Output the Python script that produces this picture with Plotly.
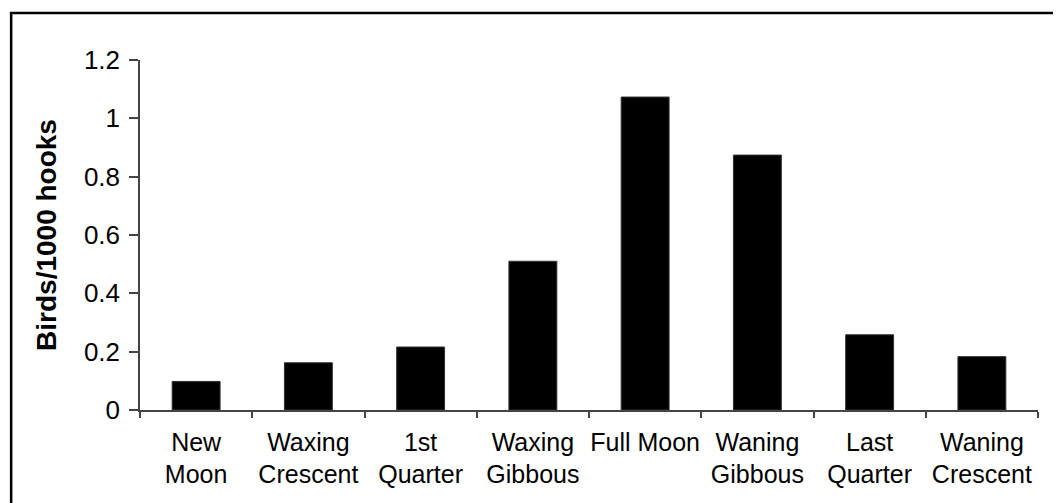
import plotly.graph_objects as go

phases = ["New<br>Moon", "Waxing<br>Crescent", "1st<br>Quarter", "Waxing<br>Gibbous",
          "Full Moon", "Waning<br>Gibbous", "Last<br>Quarter", "Waning<br>Crescent"]
birds_per_1000_hooks = [0.098, 0.162, 0.216, 0.51, 1.073, 0.874, 0.258, 0.183]
y_ticks = [0, 0.2, 0.4, 0.6, 0.8, 1, 1.2]

fig = go.Figure(go.Bar(
    x=phases, y=birds_per_1000_hooks,
    marker=dict(color="#000000", line=dict(color="#333333", width=1)),
))

font = "Liberation Sans, Arial, sans-serif"
fig.update_layout(
    width=1053, height=495,
    margin=dict(l=132, r=23, t=52, b=93),
    paper_bgcolor="white", plot_bgcolor="white",
    bargap=0.573, showlegend=False,
    font=dict(family=font, color="#000000"),
)
fig.update_xaxes(
    showline=True, linecolor="#444444", linewidth=1.5,
    ticks="outside", ticklen=6, tickcolor="#444444", tickwidth=1.5,
    tickson="boundaries", tickfont=dict(size=25, family=font),
    ticklabelstandoff=9, tickangle=0, automargin=False,
    showgrid=False,
)
fig.update_yaxes(
    range=[0, 1.2], tickvals=y_ticks, ticktext=[str(v) for v in y_ticks],
    showline=True, linecolor="#444444", linewidth=1.5,
    ticks="outside", ticklen=9, tickcolor="#444444", tickwidth=1.5,
    tickfont=dict(size=26, family=font), ticklabelstandoff=4,
    showgrid=False, zeroline=False, automargin=False,
    title=dict(text="<b>Birds/1000 hooks</b>", font=dict(size=28, family=font), standoff=19),
)
fig.add_shape(type="rect", xref="paper", yref="paper",
              x0=-0.1435, x1=1.03, y0=-0.3, y1=1.134,
              line=dict(color="#000000", width=2.5), fillcolor="rgba(0,0,0,0)")
fig.write_html("out.html")
